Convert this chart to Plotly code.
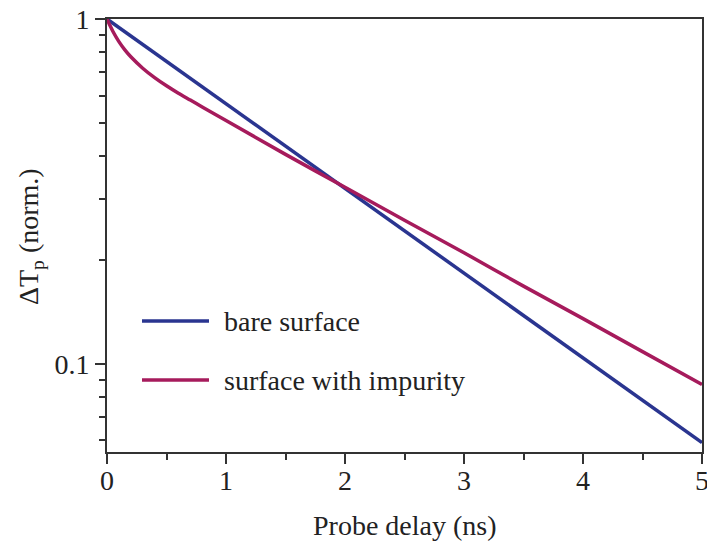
import plotly.graph_objects as go

# Data
bare_x = [0.0, 5.0]
bare_y = [1.0, 0.0591]

imp_x = [0.0, 0.025, 0.05, 0.1, 0.15, 0.2, 0.3, 0.4, 0.5, 0.6, 0.7, 0.8, 1.0, 1.5, 2.0, 2.5, 3.0, 3.5, 4.0, 4.5, 5.0]
imp_y = [1.0, 0.957, 0.920, 0.860, 0.814, 0.777, 0.720, 0.676, 0.640, 0.609, 0.582, 0.556, 0.508,
         0.405, 0.325, 0.261, 0.210, 0.168, 0.1352, 0.1085, 0.0871]

series_names = ["bare surface", "surface with impurity"]
colors = ["#2a3590", "#a61b5c"]

x_ticks = [0, 1, 2, 3, 4, 5]
y_ticks = [0.1, 1]
y_ticktext = ["0.1", "1"]

FONT = "Liberation Serif"
FS = 28
AX = "#333333"
TXT = "#222222"

W, H = 707, 547
P_L, P_R, P_T, P_B = 107, 702, 19, 452          # plot frame in page pixels
L, R, T, B = P_L, W - P_R, P_T, H - P_B
pw, ph = P_R - P_L, P_B - P_T

def px(xp):
    return (xp - P_L) / pw

def py(yp):
    return 1 - (yp - P_T) / ph

fig = go.Figure()
fig.add_trace(go.Scatter(x=bare_x, y=bare_y, mode="lines", name=series_names[0],
                         line=dict(color=colors[0], width=3.5), showlegend=False))
fig.add_trace(go.Scatter(x=imp_x, y=imp_y, mode="lines", name=series_names[1],
                         line=dict(color=colors[1], width=3.5, shape="spline", smoothing=0.5),
                         showlegend=False))

shapes = []
annotations = []
for i, yy in enumerate([321, 380]):
    shapes.append(dict(type="line", xref="paper", yref="paper",
                       x0=px(142), x1=px(209), y0=py(yy), y1=py(yy),
                       line=dict(color=colors[i], width=3.5)))
    annotations.append(dict(xref="paper", yref="paper", x=px(222), y=py(yy),
                            text=series_names[i], showarrow=False, xanchor="left",
                            yanchor="middle", font=dict(family=FONT, size=FS, color=TXT)))

# axis titles
annotations.append(dict(xref="paper", yref="paper", x=0.5, y=py(525),
                        text="Probe delay (ns)", showarrow=False, xanchor="center",
                        yanchor="middle", font=dict(family=FONT, size=FS, color=TXT)))
annotations.append(dict(xref="paper", yref="paper", x=px(30), y=py(236),
                        text="ΔT<sub>p</sub> (norm.)", showarrow=False, textangle=-90,
                        xanchor="center", yanchor="middle",
                        font=dict(family=FONT, size=FS, color=TXT)))

fig.update_layout(
    width=W, height=H,
    margin=dict(l=L, r=R, t=T, b=B, autoexpand=False),
    paper_bgcolor="white", plot_bgcolor="white",
    font=dict(family=FONT, size=FS, color=TXT),
    shapes=shapes, annotations=annotations,
    showlegend=False,
)
fig.update_xaxes(range=[0, 5], tickvals=x_ticks, ticks="outside", ticklen=10, tickwidth=2,
                 tickcolor=AX, showline=True, linecolor=AX, linewidth=2, mirror=True,
                 showgrid=False, zeroline=False, automargin=False, ticklabelstandoff=-8,
                 ticklabeloverflow="allow",
                 minor=dict(dtick=0.5, ticks="outside", ticklen=6, tickwidth=2, tickcolor=AX, showgrid=False),
                 tickfont=dict(size=FS, family=FONT, color=TXT))
fig.update_yaxes(type="log", range=[-1.2557, 0], tickvals=y_ticks, ticktext=y_ticktext,
                 ticks="outside", ticklen=10, tickwidth=2, tickcolor=AX,
                 showline=True, linecolor=AX, linewidth=2, mirror=True,
                 showgrid=False, zeroline=False, automargin=False,
                 ticklabeloverflow="allow",
                 minor=dict(dtick="D1", ticks="outside", ticklen=6, tickwidth=2, tickcolor=AX, showgrid=False),
                 tickfont=dict(size=FS, family=FONT, color=TXT))

fig.write_html("out.html", config={"displayModeBar": False},
               post_script="document.body.style.margin='0';document.body.style.overflow='hidden';")
